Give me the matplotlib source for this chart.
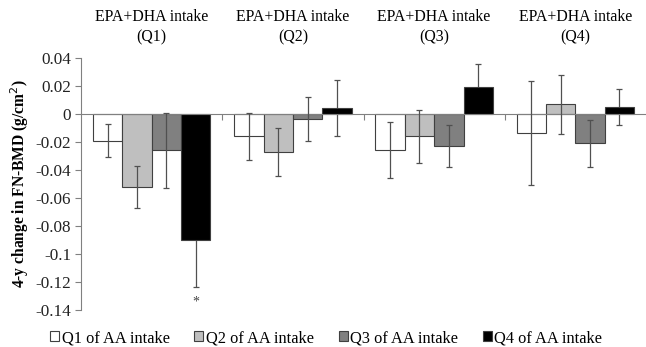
import numpy as np
import matplotlib.pyplot as plt
from matplotlib.patches import Patch
from matplotlib.transforms import blended_transform_factory

plt.rcParams['font.family'] = ['Liberation Serif', 'DejaVu Serif']

groups = ['Q1', 'Q2', 'Q3', 'Q4']
series = ['Q1 of AA intake', 'Q2 of AA intake', 'Q3 of AA intake', 'Q4 of AA intake']
colors = ['white', '#bfbfbf', '#808080', 'black']

# rows: AA intake quartile, columns: EPA+DHA intake group
values = [
    [-0.019, -0.016, -0.026, -0.0135],
    [-0.052, -0.027, -0.016, 0.007],
    [-0.026, -0.0035, -0.023, -0.021],
    [-0.090, 0.0043, 0.019, 0.005],
]
errors = [
    [0.012, 0.017, 0.020, 0.037],
    [0.015, 0.017, 0.019, 0.021],
    [0.027, 0.016, 0.015, 0.017],
    [0.034, 0.020, 0.017, 0.013],
]
yticks = [-0.14, -0.12, -0.1, -0.08, -0.06, -0.04, -0.02, 0, 0.02, 0.04]
ytick_labels = ['-0.14', '-0.12', '-0.1', '-0.08', '-0.06', '-0.04', '-0.02', '0', '0.02', '0.04']

fig = plt.figure(figsize=(6.46, 3.47), dpi=100)
ax = fig.add_axes([0.1254, 0.1066, 0.8746, 0.7263])

x = np.arange(len(groups))
w = 0.208
for i in range(4):
    xs = x + (i - 1.5) * w
    ax.bar(xs, values[i], w, color=colors[i], edgecolor='#404040', linewidth=0.8, zorder=2)
    # black bars hide their own error bar, as in the original
    ez = 1.5 if i == 3 else 3
    ax.errorbar(xs, values[i], yerr=errors[i], fmt='none', ecolor='#505050',
                elinewidth=0.9, capsize=2.5, capthick=0.9, zorder=ez)

ax.text(x[0] + 1.5 * w, -0.1345, '*', ha='center', va='center', fontsize=10, color='#444444')

ax.set_xlim(-0.5, 3.5)
ax.set_ylim(-0.1401, 0.0401)
ax.set_yticks(yticks)
ax.set_yticklabels(ytick_labels)
ax.set_xticks([0.5, 1.5, 2.5])
ax.set_xticklabels([])

ax.spines['top'].set_visible(False)
ax.spines['right'].set_visible(False)
ax.spines['bottom'].set_position(('data', 0))
ax.spines['bottom'].set_color('#808080')
ax.spines['left'].set_color('#808080')
ax.tick_params(axis='both', colors='#808080', length=4, width=0.8, direction='out')
ax.tick_params(axis='y', labelcolor='#222222', labelsize=12.3, pad=3)

ax.set_ylabel('4-y change in FN-BMD (g/cm$^2$)', fontsize=11.2, fontweight='bold')
ax.yaxis.set_label_coords(-0.088, 0.5)

tr = blended_transform_factory(ax.transData, ax.transAxes)
for i, g in enumerate(groups):
    ax.text(x[i], 1.162, 'EPA+DHA intake', transform=tr, ha='center', va='center', fontsize=11.4)
    ax.text(x[i], 1.083, '(' + g + ')', transform=tr, ha='center', va='center', fontsize=11.4)

handles = [Patch(facecolor=colors[i], edgecolor='#404040', linewidth=0.8) for i in range(4)]
fig.legend(handles, series, loc='lower center', bbox_to_anchor=(0.505, -0.04), ncol=4,
           frameon=False, fontsize=11.8, handlelength=0.55, handleheight=0.55,
           handletextpad=0.15, columnspacing=1.5)

fig.savefig('out.png', dpi=100)
